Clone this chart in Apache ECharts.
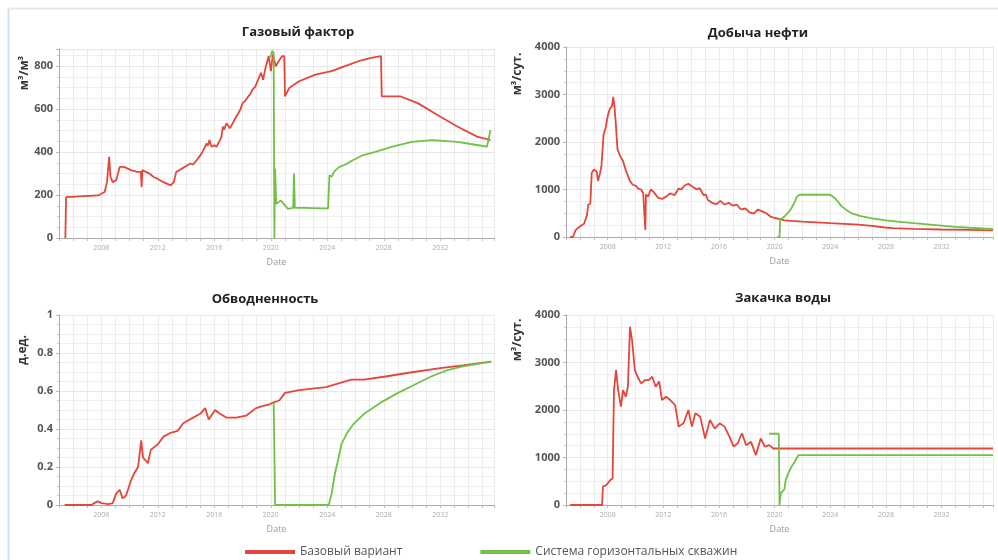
<!DOCTYPE html>
<html>
<head>
<meta charset="utf-8">
<script src="https://cdn.jsdelivr.net/npm/echarts@6/dist/echarts.min.js"></script>
<style>html,body{margin:0;padding:0;background:#fff;}#c{width:998px;height:560px;}</style>
</head>
<body>
<div id="c"></div>
<script>
const titles = ['Газовый фактор', 'Добыча нефти', 'Обводненность', 'Закачка воды'];
const yNames = ['м³/м³', 'м³/сут.', 'д.ед.', 'м³/сут.'];
const seriesNames = ['Базовый вариант', 'Система горизонтальных скважин'];
const xTickYears = [2008, 2012, 2016, 2020, 2024, 2028, 2032];

const gasBase = [[2005.45,0],[2005.5,190],[2007.77,198],[2008,206],[2008.23,214],[2008.4,260],[2008.55,378],[2008.65,284],[2008.8,260],[2009.05,269],[2009.3,331],[2009.6,331],[2010.1,316],[2010.55,308],[2010.8,308],[2010.85,237],[2010.9,316],[2011.15,308],[2011.4,300],[2011.7,284],[2012.0,275],[2012.4,260],[2012.9,245],[2013.13,260],[2013.3,308],[2013.5,315],[2013.7,323],[2014.0,335],[2014.3,347],[2014.5,342],[2014.75,362],[2015.1,394],[2015.3,420],[2015.45,440],[2015.55,430],[2015.65,456],[2015.8,425],[2016.0,432],[2016.15,425],[2016.4,456],[2016.5,470],[2016.6,519],[2016.7,505],[2016.85,534],[2017.1,511],[2017.3,534],[2017.5,560],[2017.7,581],[2017.85,600],[2018.0,628],[2018.2,640],[2018.4,659],[2018.55,670],[2018.7,691],[2018.9,705],[2019.1,737],[2019.3,769],[2019.45,737],[2019.55,770],[2019.65,800],[2019.85,847],[2020.0,777],[2020.15,855],[2020.35,800],[2020.55,823],[2020.8,847],[2020.95,847],[2021.0,659],[2021.3,698],[2022.0,730],[2023.15,761],[2024.3,777],[2025.25,800],[2026.2,823],[2027.1,839],[2027.8,847],[2027.85,659],[2029.2,659],[2030.4,628],[2031.8,573],[2033.2,519],[2034.6,472],[2035.55,456]];
const gasHoriz = [[2019.95,840],[2020.1,872],[2020.2,860],[2020.25,0],[2020.3,323],[2020.38,159],[2020.7,175],[2021.2,136],[2021.58,140],[2021.64,300],[2021.7,140],[2022.5,140],[2023.5,138],[2024.05,138],[2024.15,292],[2024.3,285],[2024.5,310],[2024.85,331],[2025.2,340],[2025.5,350],[2025.8,362],[2026.5,385],[2027.4,401],[2028.6,425],[2030.0,448],[2031.4,456],[2033.2,448],[2034.6,433],[2035.3,425],[2035.55,503]];

const oilBase = [[2005.3,0],[2005.5,0],[2005.7,150],[2006.0,220],[2006.3,280],[2006.5,450],[2006.6,680],[2006.75,700],[2006.85,1350],[2007.0,1420],[2007.2,1380],[2007.3,1180],[2007.45,1350],[2007.55,1500],[2007.7,2150],[2007.85,2300],[2008.0,2550],[2008.15,2700],[2008.3,2750],[2008.4,2950],[2008.5,2700],[2008.6,2300],[2008.7,1850],[2008.9,1700],[2009.1,1600],[2009.25,1450],[2009.4,1330],[2009.6,1180],[2009.8,1100],[2010.0,1080],[2010.2,1020],[2010.4,1000],[2010.55,920],[2010.65,900],[2010.7,150],[2010.75,900],[2010.9,850],[2011.1,1000],[2011.3,950],[2011.6,830],[2011.9,800],[2012.2,850],[2012.5,920],[2012.8,880],[2013.1,1020],[2013.3,1000],[2013.5,1080],[2013.8,1120],[2014.1,1060],[2014.4,1000],[2014.6,1030],[2014.9,880],[2015.05,900],[2015.2,780],[2015.5,720],[2015.8,690],[2016.1,760],[2016.4,680],[2016.7,720],[2017.0,660],[2017.3,680],[2017.45,620],[2017.6,580],[2017.9,600],[2018.2,520],[2018.5,490],[2018.8,580],[2019.1,540],[2019.4,500],[2019.7,430],[2020.0,400],[2020.3,380],[2020.7,350],[2021.2,340],[2022.0,325],[2023.0,310],[2024.0,290],[2025.0,275],[2026.0,260],[2027.0,235],[2027.9,200],[2028.5,185],[2030.0,170],[2032.0,158],[2034.0,148],[2035.7,140]];
const oilHoriz = [[2020.2,0],[2020.35,0],[2020.4,360],[2020.7,430],[2021.0,520],[2021.2,600],[2021.4,710],[2021.6,850],[2021.8,890],[2024.0,890],[2024.4,800],[2024.8,650],[2025.2,560],[2025.6,490],[2026.2,440],[2027.0,390],[2028.0,350],[2029.0,320],[2030.0,290],[2031.0,265],[2032.0,240],[2033.0,215],[2034.0,195],[2035.0,180],[2035.7,170]];

const wcBase = [[2005.4,0],[2007.3,0],[2007.5,0.01],[2007.75,0.02],[2008.0,0.01],[2008.5,0.005],[2008.8,0.01],[2009.05,0.06],[2009.3,0.08],[2009.5,0.035],[2009.75,0.05],[2010.1,0.13],[2010.35,0.17],[2010.6,0.2],[2010.82,0.34],[2010.95,0.25],[2011.3,0.22],[2011.5,0.29],[2012.0,0.32],[2012.4,0.36],[2012.9,0.38],[2013.4,0.39],[2013.8,0.43],[2014.5,0.46],[2015.0,0.48],[2015.35,0.51],[2015.6,0.45],[2016.05,0.5],[2016.4,0.48],[2016.85,0.46],[2017.55,0.46],[2018.25,0.47],[2018.95,0.51],[2019.4,0.52],[2019.9,0.53],[2020.2,0.54],[2020.6,0.55],[2021.0,0.59],[2022.0,0.605],[2023.9,0.62],[2025.7,0.66],[2026.6,0.66],[2028.0,0.675],[2030.1,0.70],[2032.0,0.72],[2033.6,0.735],[2035.6,0.755]];
const wcHoriz = [[2020.2,0.54],[2020.3,0],[2024.1,0],[2024.3,0.06],[2024.55,0.17],[2024.8,0.25],[2025.0,0.32],[2025.4,0.38],[2025.9,0.43],[2026.6,0.48],[2027.8,0.54],[2029.0,0.59],[2030.1,0.63],[2031.3,0.675],[2032.5,0.71],[2033.6,0.73],[2035.6,0.755]];

const injBase = [[2005.3,0],[2007.6,0],[2007.65,390],[2007.9,420],[2008.2,530],[2008.35,560],[2008.45,2420],[2008.6,2840],[2008.75,2420],[2008.95,2070],[2009.1,2420],[2009.3,2280],[2009.45,2490],[2009.6,3750],[2009.75,3470],[2009.95,2840],[2010.15,2700],[2010.4,2560],[2010.7,2630],[2010.95,2630],[2011.2,2700],[2011.45,2490],[2011.7,2600],[2011.9,2210],[2012.2,2280],[2012.5,2210],[2012.85,2100],[2013.1,1650],[2013.45,1720],[2013.8,2000],[2014.05,1650],[2014.3,1930],[2014.65,1860],[2015.0,1400],[2015.35,1790],[2015.7,1610],[2016.05,1720],[2016.4,1650],[2016.75,1440],[2017.05,1230],[2017.35,1300],[2017.65,1510],[2017.95,1260],[2018.3,1330],[2018.65,1050],[2019.0,1400],[2019.3,1230],[2019.6,1260],[2019.9,1190],[2035.7,1190]];
const injHoriz = [[2019.6,1500],[2020.3,1500],[2020.35,0],[2020.45,250],[2020.7,330],[2020.8,530],[2021.0,680],[2021.2,800],[2021.45,910],[2021.7,1050],[2035.7,1050]];

const RED = '#e5463b';
const GREEN = '#72c045';
const FONT = '"Open Sans", "Noto Sans", sans-serif';

const grids = [
  {left: 59, top: 49, width: 435, height: 189},
  {left: 566, top: 47, width: 427, height: 190},
  {left: 59, top: 315, width: 435, height: 190},
  {left: 566, top: 315, width: 427, height: 190}
];
const xMax = [2035.8, 2035.7, 2035.8, 2035.7];
const yCfg = [
  {max: 880, interval: 200},
  {max: 4000, interval: 1000},
  {max: 1, interval: 0.2},
  {max: 4000, interval: 1000}
];
const titlePos = [[293, 21], [753, 22], [260, 288], [778, 287]];
const yNamePos = [[25, 73], [518, 74], [23, 350], [518, 340]];

const xAxes = grids.map((g, i) => ({
  gridIndex: i, type: 'value', min: 2005, max: xMax[i], interval: 1,
  axisLine: {lineStyle: {color: '#aaa'}},
  axisTick: {length: 3, lineStyle: {color: '#bbb'}},
  axisLabel: {fontSize: 7, color: '#aaa', margin: 6, fontFamily: FONT,
    formatter: v => xTickYears.indexOf(v) >= 0 ? String(v) : ''},
  splitLine: {show: true, lineStyle: {color: '#ebebeb', width: 1}},
  name: 'Date', nameLocation: 'middle', nameGap: 20,
  nameTextStyle: {fontSize: 9, color: '#999', fontFamily: FONT}
}));
const yAxes = grids.map((g, i) => ({
  gridIndex: i, type: 'value', min: 0, max: yCfg[i].max, interval: yCfg[i].interval,
  axisLine: {show: true, lineStyle: {color: '#aaa'}},
  axisTick: {show: true, length: 3, lineStyle: {color: '#bbb'}},
  minorTick: {show: true, splitNumber: 4, length: 2, lineStyle: {color: '#ccc'}},
  minorSplitLine: {show: true, lineStyle: {color: '#efefef'}},
  splitLine: {show: true, lineStyle: {color: '#e6e6e6'}},
  axisLabel: {fontSize: 11, fontWeight: 'bold', color: '#555', margin: 6, fontFamily: FONT,
    showMaxLabel: i !== 0,
    formatter: v => {
      const r = v / yCfg[i].interval;
      if (Math.abs(r - Math.round(r)) > 1e-6) return '';
      return String(Math.round(v * 10) / 10);
    }}
}));

const dataSets = [[gasBase, gasHoriz], [oilBase, oilHoriz], [wcBase, wcHoriz], [injBase, injHoriz]];
const series = [];
dataSets.forEach((pair, i) => {
  pair.forEach((d, k) => {
    series.push({
      name: seriesNames[k], type: 'line', xAxisIndex: i, yAxisIndex: i,
      data: d, showSymbol: false, symbol: 'none', animation: false,
      lineStyle: {color: k === 0 ? RED : GREEN, width: 1.8},
      itemStyle: {color: k === 0 ? RED : GREEN},
      z: k === 0 ? 2 : 3
    });
  });
});

const graphics = [
  {type: 'line', shape: {x1: 8.5, y1: 8, x2: 8.5, y2: 560}, style: {stroke: '#cde2f0', lineWidth: 2}, silent: true},
  {type: 'line', shape: {x1: 8, y1: 8.5, x2: 998, y2: 8.5}, style: {stroke: '#dfeaf3', lineWidth: 2}, silent: true}
];
yNames.forEach((n, i) => {
  graphics.push({type: 'text', x: yNamePos[i][0], y: yNamePos[i][1], rotation: Math.PI / 2,
    style: {text: n, font: 'bold 12px ' + FONT, fill: '#333', align: 'center', verticalAlign: 'middle'}});
});

const chart = echarts.init(document.getElementById('c'), null, {renderer: 'canvas'});
chart.setOption({
  backgroundColor: '#fff',
  animation: false,
  title: titles.map((t, i) => ({
    text: t, left: titlePos[i][0], top: titlePos[i][1], textAlign: 'center',
    textStyle: {fontSize: 13, fontWeight: 'bold', color: '#222', fontFamily: FONT}
  })),
  legend: {
    data: seriesNames, left: 240, top: 541, icon: 'rect', itemWidth: 50, itemHeight: 4, itemGap: 78,
    textStyle: {fontSize: 12, color: '#555', fontFamily: FONT}
  },
  grid: grids,
  xAxis: xAxes,
  yAxis: yAxes,
  series: series,
  graphic: graphics
});
</script>
</body>
</html>
